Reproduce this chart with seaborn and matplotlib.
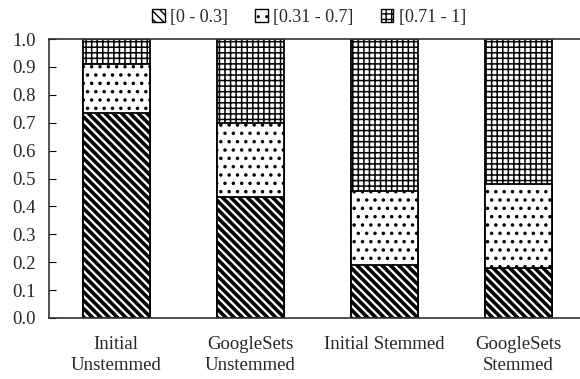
import matplotlib
matplotlib.use("Agg")
import matplotlib.pyplot as plt
import seaborn as sns
import pandas as pd
from matplotlib.patches import Patch

categories = ["Initial\nUnstemmed", "GoogleSets\nUnstemmed", "Initial Stemmed", "GoogleSets\nStemmed"]
low = [0.735, 0.435, 0.19, 0.18]      # [0 - 0.3]
mid = [0.175, 0.265, 0.265, 0.30]     # [0.31 - 0.7]
high = [0.09, 0.30, 0.545, 0.52]      # [0.71 - 1]
series_names = ["[0 - 0.3]", "[0.31 - 0.7]", "[0.71 - 1]"]
yticks = [0.0, 0.1, 0.2, 0.3, 0.4, 0.5, 0.6, 0.7, 0.8, 0.9, 1.0]

sns.set_style("white")
plt.rcParams["font.family"] = ["Liberation Serif", "DejaVu Serif"]

df = pd.DataFrame({"cat": categories, "low": low, "mid": mid, "high": high})
df["c2"] = df["low"] + df["mid"]
df["c3"] = df["c2"] + df["high"]

fig = plt.figure(figsize=(5.8, 3.79), dpi=100)
ax = fig.add_axes([49 / 580, (379 - 318) / 379, 536 / 580, (318 - 39) / 379])

hatches = ["\\\\\\\\", "..", "+++"]
hatch_lw = {hatches[0]: 2.6, hatches[1]: 1.3, hatches[2]: 1.1}
layers = [("c3", hatches[2]), ("c2", hatches[1]), ("low", hatches[0])]
for col, h in layers:
    n_before = len(ax.patches)
    with plt.rc_context({"hatch.linewidth": hatch_lw[h]}):
        sns.barplot(data=df, x="cat", y=col, color="white", edgecolor="black",
                    linewidth=1.3, width=0.5, ax=ax, saturation=1)
    for p in ax.patches[n_before:]:
        p.set_hatch(h)
        p.set_facecolor("white")
        p.set_edgecolor("black")
        if hasattr(p, "set_hatch_linewidth"):
            p.set_hatch_linewidth(hatch_lw[h])

ax.set_ylim(0, 1.0)
ax.set_xlim(-0.5, 3.5)
ax.set_yticks(yticks)
ax.set_yticklabels([f"{v:.1f}" for v in yticks], fontsize=13.5)
ax.set_xlabel("")
ax.set_ylabel("")
ax.tick_params(axis="x", which="major", length=0, labelsize=13.5, pad=13)
ax.set_xticks([0.5, 1.5, 2.5], minor=True)
ax.tick_params(axis="x", which="minor", direction="in", length=4, color="black")
ax.tick_params(axis="y", direction="in", length=5, left=True, color="black", pad=9.5)
for lab in ax.get_xticklabels():
    lab.set_linespacing(1.3)

for side in ["left", "bottom", "top"]:
    ax.spines[side].set_visible(True)
    ax.spines[side].set_color("#333333")
    ax.spines[side].set_linewidth(1.2)
ax.spines["right"].set_visible(False)

handles = []
for h, n in zip(hatches, series_names):
    hp = Patch(facecolor="white", edgecolor="black", hatch=h, label=n)
    handles.append(hp)
leg = fig.legend(handles=handles, loc="upper center", bbox_to_anchor=(0.533, 1.02), ncol=3,
                 frameon=False, fontsize=13, handlelength=0.7, handleheight=0.7,
                 handletextpad=0.3, columnspacing=1.5)

fig.savefig("out.png", dpi=100)
